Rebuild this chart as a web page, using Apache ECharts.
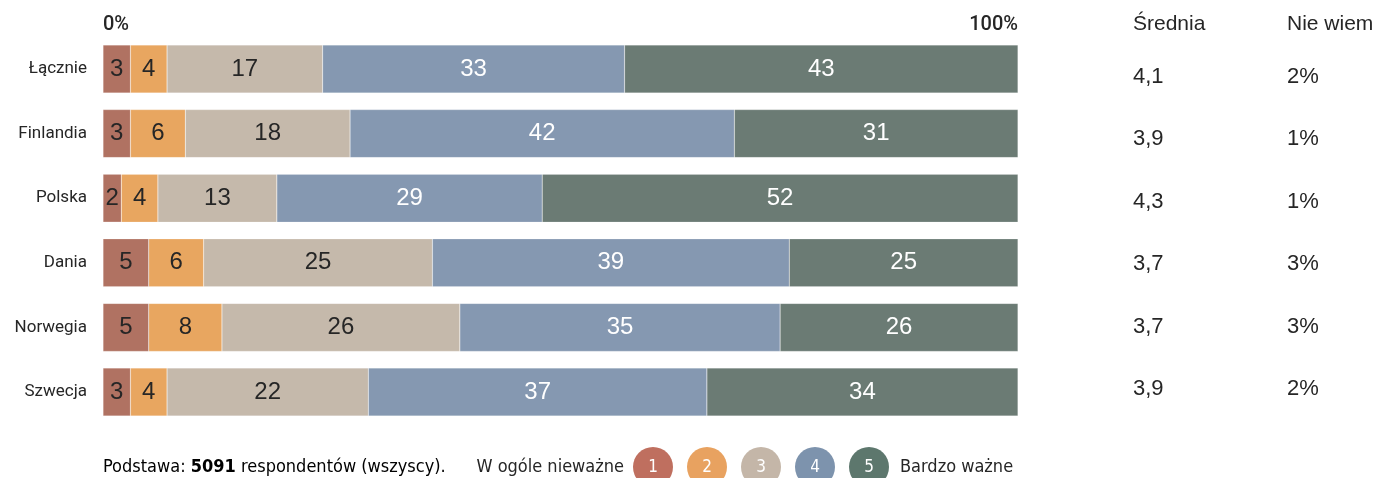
<!DOCTYPE html>
<html>
<head>
<meta charset="utf-8">
<script src="https://cdn.jsdelivr.net/npm/echarts@6/dist/echarts.min.js"></script>
<style>
  html, body { margin: 0; padding: 0; background: #ffffff; }
  #chart { width: 1389px; height: 478px; }
</style>
</head>
<body>
<div id="chart"></div>
<script>
// Rows of the survey, top to bottom
const countries = ['Łącznie', 'Finlandia', 'Polska', 'Dania', 'Norwegia', 'Szwecja'];

// Share of answers per rating (percent, excluding "Nie wiem")
const rating1 = [3, 3, 2, 5, 5, 3];
const rating2 = [4, 6, 4, 6, 8, 4];
const rating3 = [17, 18, 13, 25, 26, 22];
const rating4 = [33, 42, 29, 39, 35, 37];
const rating5 = [43, 31, 52, 25, 26, 34];

// Side columns
const averages = ['4,1', '3,9', '4,3', '3,7', '3,7', '3,9'];
const dontKnow = ['2%', '1%', '1%', '3%', '3%', '2%'];

const ratingNames = ['1', '2', '3', '4', '5'];
const barColors = ['#b07262', '#e8a660', '#c5b9ab', '#8598b1', '#6b7b74'];
const legendColors = ['#bf6f5f', '#e8a260', '#c4b6a8', '#7d93ad', '#5d776d'];
const labelColors = ['#262626', '#262626', '#262626', '#ffffff', '#ffffff'];

const numFont = "'Liberation Sans', Arial, sans-serif";
const dinFont = "Roboto, 'Noto Sans', sans-serif";
const narrowFont = "'Liberation Sans Narrow', 'DejaVu Sans Condensed', Roboto, sans-serif";

const ratingData = [rating1, rating2, rating3, rating4, rating5];

const chart = echarts.init(document.getElementById('chart'), null, { renderer: 'canvas' });

const barSeries = ratingData.map((vals, i) => ({
  name: ratingNames[i],
  type: 'bar',
  stack: 'total',
  xAxisIndex: 0,
  yAxisIndex: 0,
  barWidth: 48,
  data: vals,
  itemStyle: { color: barColors[i], borderColor: 'rgba(255,255,255,0.35)', borderWidth: 0.5 },
  label: {
    show: true,
    position: 'inside',
    formatter: p => p.value,
    fontFamily: numFont,
    fontSize: 24,
    color: labelColors[i]
  },
  emphasis: { disabled: true },
  silent: true
}));

// Hidden placeholder series so the side grids get their extents
const sideSeries = [1, 2].map(g => ({
  type: 'bar',
  xAxisIndex: g,
  yAxisIndex: g,
  data: countries.map(() => 0),
  itemStyle: { color: 'transparent' },
  silent: true
}));

const legendGraphic = [];
legendColors.forEach((c, i) => {
  const cx = 653 + i * 54;
  legendGraphic.push({
    type: 'circle',
    shape: { cx: cx, cy: 467, r: 20 },
    style: { fill: c },
    silent: true
  });
  legendGraphic.push({
    type: 'text',
    x: cx, y: 468,
    style: {
      text: ratingNames[i],
      fill: '#ffffff',
      font: '17px ' + narrowFont,
      textAlign: 'center',
      textVerticalAlign: 'middle'
    },
    silent: true
  });
});

const option = {
  animation: false,
  backgroundColor: '#ffffff',
  grid: [
    { left: 103, right: 371, top: 36.7, bottom: 53.7 },
    { left: 1133, width: 1, top: 45.8, bottom: 57.8 },
    { left: 1287, width: 1, top: 45.8, bottom: 57.8 }
  ],
  xAxis: [
    {
      gridIndex: 0, type: 'value', position: 'top', min: 0, max: 100, interval: 100,
      axisLine: { show: false }, axisTick: { show: false }, splitLine: { show: false },
      axisLabel: {
        formatter: '{value}%', margin: 2,
        fontFamily: dinFont, fontSize: 20, fontWeight: 500, color: '#262626',
        alignMinLabel: 'left', alignMaxLabel: 'right'
      }
    },
    { gridIndex: 1, type: 'value', show: false },
    { gridIndex: 2, type: 'value', show: false }
  ],
  yAxis: [
    {
      gridIndex: 0, type: 'category', data: countries, inverse: true,
      axisLine: { show: false }, axisTick: { show: false }, splitLine: { show: false },
      axisLabel: { margin: 16, fontFamily: dinFont, fontSize: 17, color: '#262626' }
    },
    {
      gridIndex: 1, type: 'category', data: countries, inverse: true,
      axisLine: { show: false }, axisTick: { show: false }, splitLine: { show: false },
      axisLabel: {
        inside: true, margin: 0, formatter: (v, idx) => averages[idx],
        fontFamily: numFont, fontSize: 22, color: '#262626'
      }
    },
    {
      gridIndex: 2, type: 'category', data: countries, inverse: true,
      axisLine: { show: false }, axisTick: { show: false }, splitLine: { show: false },
      axisLabel: {
        inside: true, margin: 0, formatter: (v, idx) => dontKnow[idx],
        fontFamily: numFont, fontSize: 22, color: '#262626'
      }
    }
  ],
  series: barSeries.concat(sideSeries),
  graphic: [
    {
      type: 'text', x: 1133, y: 24,
      style: { text: 'Średnia', font: '21px ' + numFont, fill: '#262626', textVerticalAlign: 'middle' }
    },
    {
      type: 'text', x: 1287, y: 24,
      style: { text: 'Nie wiem', font: '21px ' + numFont, fill: '#262626', textVerticalAlign: 'middle' }
    },
    {
      type: 'text', x: 103, y: 467,
      style: {
        text: '{n|Podstawa: }{b|5091}{n| respondentów (wszyscy).}',
        textVerticalAlign: 'middle',
        rich: {
          n: { fontFamily: narrowFont, fontSize: 18, color: '#262626' },
          b: { fontFamily: narrowFont, fontSize: 18, fontWeight: 'bold', color: '#262626' }
        }
      }
    },
    {
      type: 'text', x: 624, y: 467,
      style: { text: 'W ogóle nieważne', font: '18px ' + narrowFont, fill: '#262626', textAlign: 'right', textVerticalAlign: 'middle' }
    },
    {
      type: 'text', x: 900, y: 467,
      style: { text: 'Bardzo ważne', font: '18px ' + narrowFont, fill: '#262626', textVerticalAlign: 'middle' }
    }
  ].concat(legendGraphic)
};

chart.setOption(option);
</script>
</body>
</html>
